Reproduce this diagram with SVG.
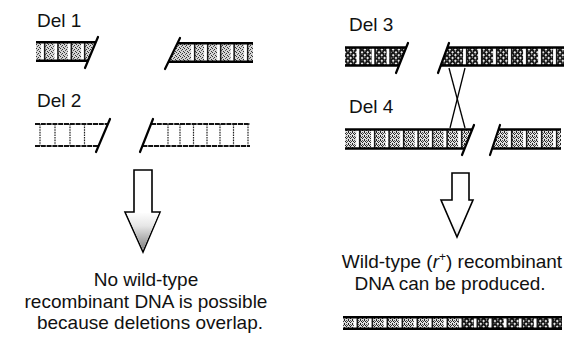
<svg xmlns="http://www.w3.org/2000/svg" width="572" height="343" viewBox="0 0 572 343">
  <style>
    .lbl { font-family: "Liberation Sans", Arial, sans-serif; font-size: 19px; fill: #111; }
    .cap { font-family: "Liberation Sans", Arial, sans-serif; font-size: 19px; fill: #111; text-anchor: middle; }
    .bar { stroke: #000; stroke-width: 2.6; fill: none; }
    .bar2 { stroke: #111; stroke-width: 2; fill: none; stroke-dasharray: 5 0.8; }
    .cut { stroke: #000; stroke-width: 2.2; fill: none; stroke-linecap: round; }
    .drung { stroke: #222; stroke-width: 1.2; stroke-dasharray: 1.6 1; }
    .xo { stroke: #000; stroke-width: 1.3; fill: none; }
    .arrow { stroke: #000; stroke-width: 1.6; stroke-linejoin: miter; }
  </style>
  <defs>
    <!-- light stipple -->
    <pattern id="pLight" width="4" height="4" patternUnits="userSpaceOnUse">
      <rect width="4" height="4" fill="#d4d4d4"/>
      <rect x="0" y="0" width="1" height="1" fill="#333"/>
      <rect x="2" y="1" width="1" height="1" fill="#333"/>
      <rect x="1" y="2" width="1" height="1" fill="#555"/>
      <rect x="3" y="3" width="1" height="1" fill="#333"/>
    </pattern>
    <!-- medium stipple -->
    <pattern id="pMed" width="4" height="4" patternUnits="userSpaceOnUse">
      <rect width="4" height="4" fill="#e0e0e0"/>
      <rect x="0" y="0" width="1" height="1" fill="#222"/>
      <rect x="1" y="1" width="1" height="1" fill="#222"/>
      <rect x="2" y="2" width="1" height="1" fill="#222"/>
      <rect x="3" y="1" width="1" height="1" fill="#444"/>
      <rect x="0" y="3" width="1" height="1" fill="#222"/>
      <rect x="2" y="0" width="1" height="1" fill="#555"/>
    </pattern>
    <!-- dark cross-hatch -->
    <pattern id="pDark" width="4" height="4" patternUnits="userSpaceOnUse" patternTransform="rotate(45)">
      <rect width="4" height="4" fill="#141414"/>
      <rect x="0" y="0" width="2" height="2" fill="#e8e8e8"/>
      <rect x="2" y="2" width="1" height="1" fill="#999"/>
    </pattern>
    <!-- rung: white gap followed by a dark line -->
    <g id="rung19">
      <rect x="-3.2" y="0" width="3" height="19" fill="#fff"/>
      <rect x="-0.4" y="0" width="1.5" height="19" fill="#1a1a1a"/>
    </g>
    <g id="rung20">
      <rect x="-3.2" y="0" width="3" height="20" fill="#fff"/>
      <rect x="-0.4" y="0" width="1.5" height="20" fill="#1a1a1a"/>
    </g>
    <g id="rung12">
      <rect x="-3.2" y="0" width="3" height="12" fill="#fff"/>
      <rect x="-0.4" y="0" width="1.5" height="12" fill="#1a1a1a"/>
    </g>
    <linearGradient id="gHead" x1="0" y1="212" x2="0" y2="252" gradientUnits="userSpaceOnUse">
      <stop offset="0" stop-color="#fff"/>
      <stop offset="0.35" stop-color="#e6e6e6"/>
      <stop offset="1" stop-color="#777"/>
    </linearGradient>
    <linearGradient id="gHead2" x1="0" y1="200" x2="0" y2="237" gradientUnits="userSpaceOnUse">
      <stop offset="0" stop-color="#fff"/>
      <stop offset="0.6" stop-color="#fff"/>
      <stop offset="1" stop-color="#e4e4e4"/>
    </linearGradient>
  </defs>

  <rect width="572" height="343" fill="#fff"/>

  <!-- Del 1 -->
  <g id="del1">
    <text class="lbl" x="37" y="27">Del 1</text>
    <g id="del1-left">
      <polygon points="36,42 95.9,42 88,61 36,61" fill="url(#pLight)"/>
      <use href="#rung19" x="44.3" y="42"/><use href="#rung19" x="57.6" y="42"/><use href="#rung19" x="71" y="42"/><use href="#rung19" x="84.3" y="42"/>
      <line class="bar" x1="36" y1="42.3" x2="95.8" y2="42.3"/>
      <line class="bar" x1="36" y1="60.7" x2="88.1" y2="60.7"/>
      <line class="cut" x1="98" y1="37" x2="85" y2="68"/>
    </g>
    <g id="del1-right">
      <polygon points="177.6,43 253,43 253,62 168.4,62" fill="url(#pLight)"/>
      <use href="#rung19" x="194.3" y="43"/><use href="#rung19" x="207.3" y="43"/><use href="#rung19" x="220.3" y="43"/><use href="#rung19" x="233.8" y="43"/><use href="#rung19" x="247.3" y="43"/>
      <line class="bar" x1="177.5" y1="43.3" x2="253" y2="43.3"/>
      <line class="bar" x1="168.5" y1="61.7" x2="253" y2="61.7"/>
      <line class="cut" x1="180" y1="38" x2="165" y2="69"/>
    </g>
  </g>

  <!-- Del 2 -->
  <g id="del2">
    <text class="lbl" x="37" y="107">Del 2</text>
    <g id="del2-left">
      <g class="drung"><line x1="40" y1="124" x2="40" y2="146"/><line x1="55" y1="124" x2="55" y2="146"/><line x1="70" y1="124" x2="70" y2="146"/><line x1="84.5" y1="124" x2="84.5" y2="146"/></g>
      <line class="bar2" x1="35" y1="124" x2="107.9" y2="124"/>
      <line class="bar2" x1="35" y1="146" x2="98.5" y2="146"/>
      <line class="cut" x1="110" y1="119" x2="96" y2="152"/>
    </g>
    <g id="del2-right">
      <g class="drung"><line x1="168" y1="124" x2="168" y2="146"/><line x1="180" y1="124" x2="180" y2="146"/><line x1="193.5" y1="124" x2="193.5" y2="146"/><line x1="207" y1="124" x2="207" y2="146"/><line x1="220" y1="124" x2="220" y2="146"/><line x1="233.5" y1="124" x2="233.5" y2="146"/><line x1="248" y1="124" x2="248" y2="146"/></g>
      <line class="bar2" x1="151" y1="124" x2="250" y2="124"/>
      <line class="bar2" x1="142.4" y1="146" x2="250" y2="146"/>
      <line class="cut" x1="153" y1="119" x2="140" y2="152"/>
    </g>
  </g>

  <!-- Del 3 -->
  <g id="del3">
    <text class="lbl" x="349" y="31">Del 3</text>
    <g id="del3-left">
      <polygon points="345,47 406.4,47 399.2,66 345,66" fill="url(#pDark)"/>
      <use href="#rung19" x="359.8" y="47"/><use href="#rung19" x="374.8" y="47"/><use href="#rung19" x="389.8" y="47"/>
      <line class="bar" x1="345" y1="47.5" x2="406.2" y2="47.5"/>
      <line class="bar" x1="345" y1="65.5" x2="399" y2="65.5"/>
      <line class="cut" x1="408" y1="43" x2="396" y2="73"/>
    </g>
    <g id="del3-right">
      <polygon points="447.5,47 564,47 564,66 440.5,66" fill="url(#pDark)"/>
      <use href="#rung19" x="466.3" y="47"/><use href="#rung19" x="481.3" y="47"/><use href="#rung19" x="496.3" y="47"/><use href="#rung19" x="511.3" y="47"/><use href="#rung19" x="526.3" y="47"/><use href="#rung19" x="541.3" y="47"/><use href="#rung19" x="556.3" y="47"/>
      <line class="bar" x1="447.4" y1="47.5" x2="564" y2="47.5"/>
      <line class="bar" x1="440.7" y1="65.5" x2="564" y2="65.5"/>
      <line class="cut" x1="449" y1="43" x2="438" y2="73"/>
    </g>
  </g>

  <!-- Del 4 -->
  <g id="del4">
    <text class="lbl" x="349" y="113">Del 4</text>
    <g id="del4-left">
      <polygon points="345,129 472.4,129 464.8,149 345,149" fill="url(#pMed)"/>
      <use href="#rung20" x="359.3" y="129"/><use href="#rung20" x="374.3" y="129"/><use href="#rung20" x="388.8" y="129"/><use href="#rung20" x="403.3" y="129"/><use href="#rung20" x="417.8" y="129"/><use href="#rung20" x="432.3" y="129"/><use href="#rung20" x="446.8" y="129"/><use href="#rung20" x="461.3" y="129"/>
      <line class="bar" x1="345" y1="129.5" x2="472.2" y2="129.5"/>
      <line class="bar" x1="345" y1="148.5" x2="464.6" y2="148.5"/>
      <line class="cut" x1="474" y1="125" x2="462" y2="155"/>
    </g>
    <g id="del4-right">
      <polygon points="498.7,129 561,129 561,149 492.1,149" fill="url(#pMed)"/>
      <use href="#rung20" x="511.3" y="129"/><use href="#rung20" x="526.3" y="129"/><use href="#rung20" x="541.3" y="129"/><use href="#rung20" x="556.3" y="129"/>
      <line class="bar" x1="498.5" y1="129.5" x2="561" y2="129.5"/>
      <line class="bar" x1="492.2" y1="148.5" x2="561" y2="148.5"/>
      <line class="cut" x1="500" y1="125" x2="490" y2="155"/>
    </g>
  </g>

  <!-- connectors: crossover between Del 3 and Del 4, and result arrows -->
  <g id="connectors">
    <line class="xo" x1="449" y1="68" x2="465" y2="128"/>
    <line class="xo" x1="465" y1="68" x2="450" y2="128"/>
    <polygon class="arrow" points="134,170 152,170 152,212 160,212 143,252 125,212 134,212" fill="#fff"/>
    <polygon points="126.5,213 159,213 143,250" fill="url(#gHead)"/>
    <polygon class="arrow" points="452,173 469,173 469,200 473,200 457,237 441,200 452,200" fill="url(#gHead2)"/>
  </g>

  <!-- captions -->
  <g id="caption-left">
    <text class="cap" x="146" y="286">No wild-type</text>
    <text class="cap" x="146" y="308">recombinant DNA is possible</text>
    <text class="cap" x="150" y="329">because deletions overlap.</text>
  </g>
  <g id="caption-right">
    <text class="cap" x="452" y="268">Wild-type (<tspan font-style="italic">r</tspan><tspan font-size="12" dy="-7">+</tspan><tspan dy="7">) recombinant</tspan></text>
    <text class="cap" x="450" y="290">DNA can be produced.</text>
  </g>

  <!-- recombinant product -->
  <g id="recombinant">
    <rect x="343" y="317" width="115" height="12" fill="url(#pMed)"/>
    <rect x="458" y="317" width="104" height="12" fill="url(#pDark)"/>
    <use href="#rung12" x="357" y="317"/><use href="#rung12" x="372" y="317"/><use href="#rung12" x="387" y="317"/><use href="#rung12" x="402" y="317"/><use href="#rung12" x="417" y="317"/><use href="#rung12" x="432" y="317"/><use href="#rung12" x="447" y="317"/><use href="#rung12" x="462" y="317"/><use href="#rung12" x="477" y="317"/><use href="#rung12" x="492" y="317"/><use href="#rung12" x="507" y="317"/><use href="#rung12" x="522" y="317"/><use href="#rung12" x="537" y="317"/><use href="#rung12" x="552" y="317"/>
    <line class="bar" x1="343" y1="317.3" x2="562" y2="317.3"/>
    <line class="bar" x1="343" y1="328.7" x2="562" y2="328.7"/>
  </g>
</svg>
